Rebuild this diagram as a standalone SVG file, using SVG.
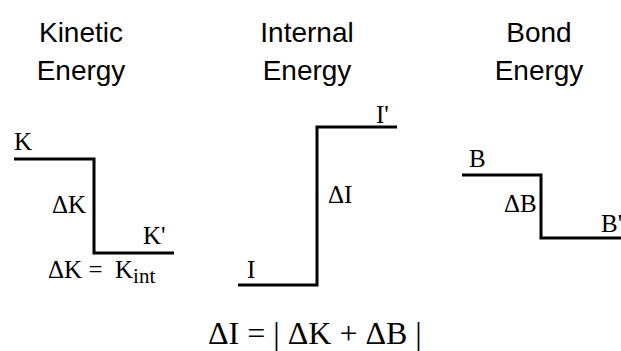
<svg xmlns="http://www.w3.org/2000/svg" width="621" height="351" viewBox="0 0 621 351">
<style>
.title{font-family:"Liberation Sans",Arial,sans-serif;font-size:28px;fill:#000;text-anchor:middle}
.lbl{font-family:"Liberation Serif","Times New Roman",serif;font-size:25px;fill:#000}
.eq{font-family:"Liberation Serif","Times New Roman",serif;font-size:32px;fill:#000}
.lvl{fill:none;stroke:#000;stroke-width:3;stroke-linejoin:miter;stroke-linecap:butt}
</style>
<rect width="621" height="351" fill="#fff"/>
<g id="kinetic">
<text class="title" x="81" y="42">Kinetic</text>
<text class="title" x="81" y="80">Energy</text>
<text class="lbl" x="14" y="150">K</text>
<text class="lbl" x="52" y="213">ΔK</text>
<text class="lbl" x="143" y="244">K'</text>
<text class="lbl" x="48" y="278">ΔK =&#160; K<tspan font-size="21" dy="5">int</tspan></text>
</g>
<g id="internal">
<text class="title" x="307" y="42">Internal</text>
<text class="title" x="307" y="80">Energy</text>
<text class="lbl" x="247" y="278">I</text>
<text class="lbl" x="328" y="203">ΔI</text>
<text class="lbl" x="376" y="123">I'</text>
</g>
<g id="bond">
<text class="title" x="539" y="42">Bond</text>
<text class="title" x="539" y="80">Energy</text>
<text class="lbl" x="469" y="167">B</text>
<text class="lbl" x="504" y="212">ΔB</text>
<text class="lbl" x="601" y="232">B'</text>
</g>
<g id="connectors">
<path class="lvl" d="M14 159 H94 V253 H174"/>
<path class="lvl" d="M238 285 H317 V127 H397"/>
<path class="lvl" d="M462 175 H541 V238 H621"/>
</g>
<text class="eq" x="208" y="344">ΔI = | ΔK + ΔB |</text>
</svg>
